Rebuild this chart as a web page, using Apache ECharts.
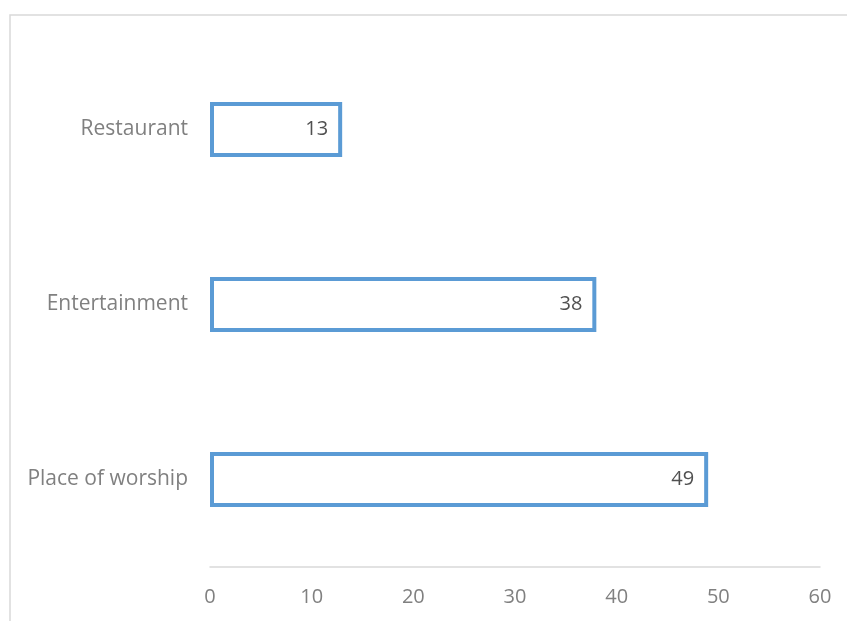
<!DOCTYPE html>
<html>
<head>
<meta charset="utf-8">
<script src="https://cdn.jsdelivr.net/npm/echarts@6/dist/echarts.min.js"></script>
<style>
  html, body { margin: 0; padding: 0; background: #fff; }
  #main { width: 847px; height: 621px; }
</style>
</head>
<body>
<div id="main"></div>
<script>
var categories = ['Restaurant', 'Entertainment', 'Place of worship'];
var values = [13, 38, 49];
var xTicks = { min: 0, max: 60, interval: 10 };

var chart = echarts.init(document.getElementById('main'));

var option = {
    backgroundColor: '#fff',
    animation: false,
    textStyle: { fontFamily: 'Open Sans' },
    graphic: [{
        type: 'rect',
        shape: { x: 10, y: 15, width: 900, height: 700 },
        style: { fill: 'none', stroke: '#d9d9d9', lineWidth: 1.5 },
        silent: true
    }],
    grid: {
        left: 210,
        right: 27,
        top: 42,
        bottom: 54
    },
    xAxis: {
        type: 'value',
        min: xTicks.min,
        max: xTicks.max,
        interval: xTicks.interval,
        axisLine: { show: true, lineStyle: { color: '#d9d9d9', width: 1.5 } },
        axisTick: { show: false },
        splitLine: { show: false },
        axisLabel: { color: '#808080', fontSize: 20, margin: 20 }
    },
    yAxis: {
        type: 'category',
        inverse: true,
        data: categories,
        axisLine: { show: false },
        axisTick: { show: false },
        axisLabel: { color: '#808080', fontSize: 21, margin: 22 }
    },
    series: [{
        type: 'bar',
        data: values,
        barWidth: 55,
        itemStyle: {
            color: '#fff',
            borderColor: '#5b9bd5',
            borderWidth: 4
        },
        label: {
            show: true,
            position: 'insideRight',
            distance: 14,
            color: '#505050',
            fontSize: 20
        }
    }]
};

chart.setOption(option);
</script>
</body>
</html>
